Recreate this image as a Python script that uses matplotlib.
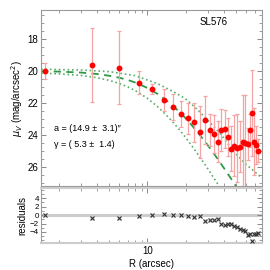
import matplotlib
matplotlib.use("Agg")
import matplotlib.pyplot as plt
from matplotlib.ticker import MultipleLocator, NullFormatter, FixedLocator, FixedFormatter

plt.rcParams['font.family'] = ['Liberation Sans', 'DejaVu Sans']

# surface brightness profile
R = [1.55, 3.67, 6.0, 8.65, 10.96, 13.5, 15.9, 18.4, 21.0, 23.5, 25.9, 28.5, 31.0, 33.6, 36.1,
     38.4, 41.1, 43.6, 45.6, 48.4, 50.8, 53.7, 56.4, 59.2, 61.7, 64.5, 66.8, 69.0, 72.0, 75.1]
mu = [20.04, 19.64, 19.8, 20.75, 21.12, 21.83, 22.25, 22.7, 22.96, 23.23, 23.83, 23.1, 23.69, 23.94, 24.42,
      23.69, 23.65, 24.14, 24.88, 24.69, 24.83, 24.73, 24.42, 24.52, 24.56, 23.73, 22.65, 24.42, 24.63, 24.98]
mu_err = [0.5, 2.3, 2.3, 0.73, 0.3, 0.67, 0.8, 0.8, 0.97, 1.24, 1.6, 1.5, 1.0, 1.2, 1.3,
          1.3, 1.2, 1.2, 1.4, 1.9, 2.1, 1.6, 2.9, 3.0, 1.0, 1.0, 2.7, 2.1, 1.2, 0.7]
resid = [0.0, -0.6, -0.8, -0.15, 0.0, 0.15, 0.1, 0.1, -0.15, -0.4, -0.15, -1.3, -1.1, -1.1, -1.0,
         -2.2, -2.35, -2.0, -2.1, -2.5, -2.9, -3.4, -3.5, -3.7, -4.7, -4.4, -6.2, -4.5, -4.4, -4.3]

# fitted profile and its envelope
R_fit = [1.45, 2, 3, 4, 5, 6, 7, 8, 10, 12, 14, 16, 18, 20, 22, 25, 28, 30, 33, 36, 40, 45, 50, 55]
mu_fit = [20.03, 20.05, 20.11, 20.20, 20.31, 20.43, 20.57, 20.73, 21.07, 21.44, 21.82, 22.21, 22.59,
          22.96, 23.33, 23.85, 24.35, 24.66, 25.11, 25.53, 26.06, 26.66, 27.21, 27.72]
R_hi = [1.45, 3, 5, 8, 12, 16, 20, 25, 30, 35, 40, 45, 50, 60, 70, 80]
mu_hi = [19.9, 19.95, 20.05, 20.3, 20.8, 21.3, 21.75, 22.45, 23.1, 23.65, 24.2, 24.75, 25.2, 25.85, 26.3, 26.7]
R_lo = [1.45, 2, 3, 4, 5, 6, 7, 8, 10, 12, 14, 16, 18, 20, 22, 25, 28, 30, 33, 36, 38]
mu_lo = [20.15, 20.19, 20.29, 20.43, 20.60, 20.79, 21.0, 21.23, 21.72, 22.23, 22.74, 23.23, 23.71,
         24.16, 24.60, 25.21, 25.77, 26.13, 26.63, 27.09, 27.39]

fig = plt.figure(figsize=(2.7, 2.7), dpi=100)
ax = fig.add_axes([0.152, 0.311, 0.818, 0.652])
axr = fig.add_axes([0.152, 0.100, 0.818, 0.204], sharex=ax)

green = '#2f9a45'
ax.plot(R_hi, mu_hi, ':', color=green, lw=1.2, alpha=0.8)
ax.plot(R_lo, mu_lo, ':', color=green, lw=1.2, alpha=0.8)
ax.plot(R_fit, mu_fit, '--', color=green, lw=1.3, dashes=(4, 3))
ax.errorbar(R, mu, yerr=mu_err, fmt='o', color='red', ms=3.2, ecolor='#f5a3a3',
            elinewidth=0.9, capsize=1.5, capthick=0.9, zorder=5)

ax.set_xscale('log')
ax.set_xlim(1.45, 80)
ax.set_ylim(27.2, 16.2)
ax.yaxis.set_major_locator(FixedLocator([18, 20, 22, 24, 26]))
ax.yaxis.set_minor_locator(MultipleLocator(0.5))
ax.set_ylabel(r'$\mu_V$ (mag/arcsec$^2$)', fontsize=7, labelpad=2)
ax.text(0.78, 0.93, 'SL576', transform=ax.transAxes, fontsize=7, ha='center', va='center')
ax.text(0.06, 0.325, 'a = (14.9 \u00b1  3.1)\u2033', transform=ax.transAxes, fontsize=6.5, va='center')
ax.text(0.06, 0.235, '\u03b3 = ( 5.3 \u00b1  1.4)', transform=ax.transAxes, fontsize=6.5, va='center')
plt.setp(ax.get_xticklabels(), visible=False)

axr.axhline(0, color='#cccccc', lw=2.2, zorder=1)
axr.plot(R, resid, 's', ms=3.3, mfc='#d8d8d8', mec='none', zorder=2)
axr.plot(R, resid, 'x', ms=2.5, color='#333333', mew=0.8, zorder=3)
axr.set_ylim(-6.6, 6.4)
axr.yaxis.set_major_locator(FixedLocator([-4, -2, 0, 2, 4]))
axr.yaxis.set_minor_locator(MultipleLocator(1))
axr.set_ylabel('residuals', fontsize=7, labelpad=2)
axr.set_xlabel('R (arcsec)', fontsize=7, labelpad=2)
axr.xaxis.set_major_locator(FixedLocator([10]))
axr.xaxis.set_major_formatter(FixedFormatter(['10']))
axr.xaxis.set_minor_formatter(NullFormatter())

for a in (ax, axr):
    a.tick_params(which='both', direction='in', top=True, right=True, labelsize=7,
                  color='#777777', pad=2)
    a.tick_params(which='major', length=3.5, width=0.6)
    a.tick_params(which='minor', length=2, width=0.5)
    for s in a.spines.values():
        s.set_color('#999999')
        s.set_linewidth(0.8)
axr.tick_params(axis='y', labelsize=5.8, pad=1.5)
for s in ('top', 'bottom'):
    axr.spines[s].set_color('#cccccc')
    axr.spines[s].set_linewidth(1.5)

fig.savefig('out.png', dpi=100)
